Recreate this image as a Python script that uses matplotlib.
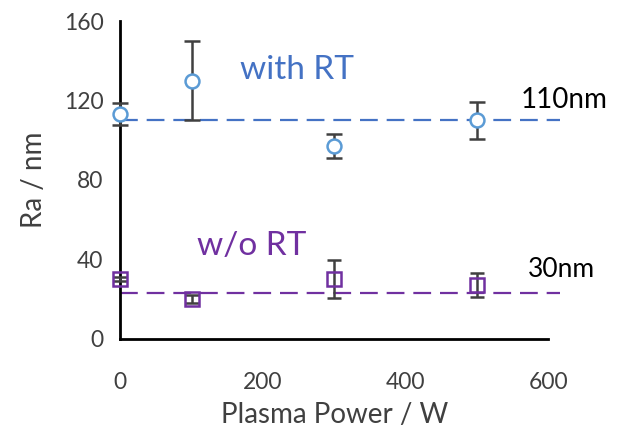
import matplotlib.pyplot as plt

plt.rcParams["font.family"] = ["Lato", "DejaVu Sans"]

power = [0, 100, 300, 500]
ra_with_rt = [113, 130, 97, 110]
err_with_rt = [5.5, 20, 6, 9.5]
ra_without_rt = [30, 20, 30, 27]
err_without_rt = [1, 2, 9.5, 6]
mean_with_rt = 110
mean_without_rt = 23
xticks = [0, 200, 400, 600]
yticks = [0, 40, 80, 120, 160]

blue = "#5b9bd5"
blue_text = "#4472c4"
purple = "#7030a0"
grey = "#404040"

fig = plt.figure(figsize=(6.23, 4.30), dpi=100)
ax = fig.add_axes([0.193, 0.212, 0.687, 0.739])

# reference lines (run a bit past the axis end)
ax.plot([0, 616], [mean_with_rt] * 2, color=blue_text, lw=1.6,
        dashes=(8, 4), clip_on=False, zorder=1)
ax.plot([0, 616], [mean_without_rt] * 2, color=purple, lw=1.6,
        dashes=(8, 4), clip_on=False, zorder=1)

ax.errorbar(power, ra_with_rt, yerr=err_with_rt, fmt="o", ms=10,
            mfc="white", mec=blue, mew=1.8, ecolor=grey, elinewidth=1.8,
            capsize=6, capthick=1.8, clip_on=False, zorder=3)
ax.errorbar(power, ra_without_rt, yerr=err_without_rt, fmt="s", ms=10,
            mfc="none", mec=purple, mew=1.8, ecolor=grey, elinewidth=1.8,
            capsize=5, capthick=1.8, clip_on=False, zorder=3)

ax.set_xlim(0, 600)
ax.set_ylim(0, 160)
ax.set_xticks(xticks)
ax.set_yticks(yticks)
ax.tick_params(length=0, labelsize=16.5, colors=grey)
ax.tick_params(axis="y", pad=12)
ax.tick_params(axis="x", pad=24)
for s in ["top", "right"]:
    ax.spines[s].set_visible(False)
for s in ["left", "bottom"]:
    ax.spines[s].set_linewidth(2)
    ax.spines[s].set_color("black")

ax.set_xlabel("Plasma Power / W", fontsize=20, color=grey, labelpad=6)
ax.set_ylabel("Ra / nm", fontsize=20, color=grey, labelpad=12)

ax.text(168, 131, "with RT", fontsize=24, color=blue_text)
ax.text(108, 42, "w/o RT", fontsize=24, color=purple)
ax.text(562, 116, "110nm", fontsize=20, color="black", clip_on=False)
ax.text(571, 31, "30nm", fontsize=19, color="black", clip_on=False)

plt.savefig("out.png", dpi=100)
